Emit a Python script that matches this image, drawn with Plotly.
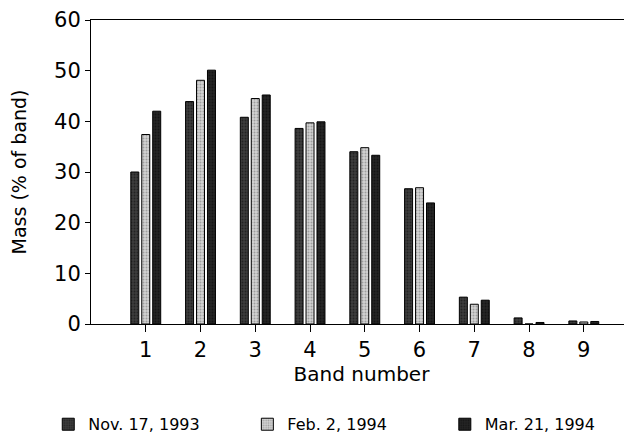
import plotly.graph_objects as go

bands = [1, 2, 3, 4, 5, 6, 7, 8, 9]
series_names = ["Nov. 17, 1993", "Feb. 2, 1994", "Mar. 21, 1994"]
nov_1993 = [30.0, 43.9, 40.8, 38.6, 34.0, 26.7, 5.3, 1.2, 0.6]
feb_1994 = [37.4, 48.1, 44.5, 39.7, 34.8, 26.9, 3.9, 0.0, 0.4]
mar_1994 = [42.0, 50.1, 45.2, 39.9, 33.3, 23.9, 4.7, 0.3, 0.5]
y_ticks = [0, 10, 20, 30, 40, 50, 60]

FONT = "DejaVu Sans"

styles = [
    dict(bg="#3c3c3c", fg="#0a0a0a"),
    dict(bg="#d2d2d2", fg="#6a6a6a"),
    dict(bg="#242424", fg="#050505"),
]
legend_ids = ["legend", "legend2", "legend3"]

fig = go.Figure()
for name, vals, st, lg in zip(series_names, [nov_1993, feb_1994, mar_1994], styles, legend_ids):
    fig.add_trace(go.Bar(
        x=bands, y=vals, name=name, legend=lg,
        marker=dict(
            color=st["bg"],
            line=dict(color="#000000", width=1),
            pattern=dict(shape=".", fgcolor=st["fg"], bgcolor=st["bg"], size=3, solidity=0.35),
        ),
    ))

legend_common = dict(
    orientation="h", yanchor="middle", y=-0.33, xanchor="left",
    font=dict(family=FONT, size=16, color="#000000"),
    bgcolor="rgba(0,0,0,0)", borderwidth=0,
)

# The page body has an 8px margin, so the figure is sized 8px smaller.
fig.update_layout(
    width=624, height=429,
    margin=dict(l=83, r=0, t=12, b=113, autoexpand=False),
    paper_bgcolor="white", plot_bgcolor="white",
    barmode="group", bargap=0.4, bargroupgap=0.27,
    font=dict(family=FONT, size=20, color="#000000"),
    showlegend=True,
    legend=dict(legend_common, x=-0.079),
    legend2=dict(legend_common, x=0.289),
    legend3=dict(legend_common, x=0.654),
    xaxis=dict(
        range=[0, 9.88], tickvals=bands, ticktext=[str(b) for b in bands],
        showline=True, linecolor="#000000", linewidth=1, mirror=True,
        ticks="outside", ticklen=7, tickcolor="#000000", tickwidth=1,
        showgrid=False, zeroline=False, automargin=False,
        tickfont=dict(family=FONT, size=21),
        title=dict(text="Band number", font=dict(family=FONT, size=20), standoff=2),
    ),
    yaxis=dict(
        range=[0, 60], tickvals=y_ticks,
        showline=True, linecolor="#000000", linewidth=1,
        ticks="outside", ticklen=5, tickcolor="#000000", tickwidth=1,
        showgrid=False, zeroline=False, automargin=False,
        tickfont=dict(family=FONT, size=21),
        title=dict(text="Mass (% of band)", font=dict(family=FONT, size=19), standoff=22),
    ),
)

fig.write_html("out.html")
